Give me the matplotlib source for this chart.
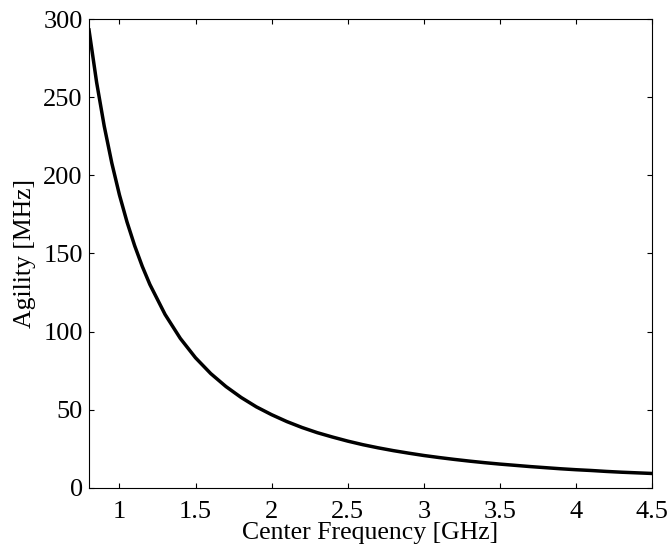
import matplotlib
matplotlib.use('Agg')
import matplotlib.pyplot as plt

# values
freq_ghz = [0.8, 0.85, 0.9, 0.95, 1.0, 1.05, 1.1, 1.15, 1.2, 1.3, 1.4, 1.5, 1.6, 1.7, 1.8, 1.9,
            2.0, 2.1, 2.2, 2.3, 2.4, 2.5, 2.6, 2.7, 2.8, 2.9, 3.0, 3.1, 3.2, 3.3,
            3.4, 3.5, 3.6, 3.7, 3.8, 3.9, 4.0, 4.1, 4.2, 4.3, 4.4, 4.5]
agility_mhz = [293, 259.5, 231.5, 207.8, 187.5, 170.1, 155, 141.8, 130.2, 111, 95.7, 83.3, 73.2, 64.9, 57.9, 51.9,
               46.9, 42.5, 38.7, 35.4, 32.6, 30.0, 27.7, 25.7, 23.9, 22.3, 20.8, 19.5, 18.3, 17.2,
               16.2, 15.3, 14.5, 13.7, 13.0, 12.3, 11.7, 11.2, 10.6, 10.1, 9.7, 9.3]
xticks = [1, 1.5, 2, 2.5, 3, 3.5, 4, 4.5]
yticks = [0, 50, 100, 150, 200, 250, 300]

plt.rcParams['font.family'] = ['Liberation Serif', 'DejaVu Serif']
plt.rcParams['font.size'] = 18.5

fig = plt.figure(figsize=(6.72, 5.5), dpi=100)
ax = fig.add_axes([89 / 672, 1 - 488 / 550, (652 - 89) / 672, (488 - 19) / 550])

ax.plot(freq_ghz, agility_mhz, color='black', linewidth=2.5)

ax.set_xlim(0.8, 4.5)
ax.set_ylim(0, 300)
ax.set_xticks(xticks)
ax.set_xticklabels(['1', '1.5', '2', '2.5', '3', '3.5', '4', '4.5'])
ax.set_yticks(yticks)
ax.tick_params(direction='in', top=True, right=True, length=3.6, width=0.8, labelsize=19)
ax.tick_params(axis='x', pad=9)
ax.tick_params(axis='y', pad=4.5)
for s in ax.spines.values():
    s.set_linewidth(0.8)

ax.set_xlabel('Center Frequency [GHz]', labelpad=0)
ax.set_ylabel('Agility [MHz]', labelpad=5)

fig.savefig('out.png', dpi=100)
